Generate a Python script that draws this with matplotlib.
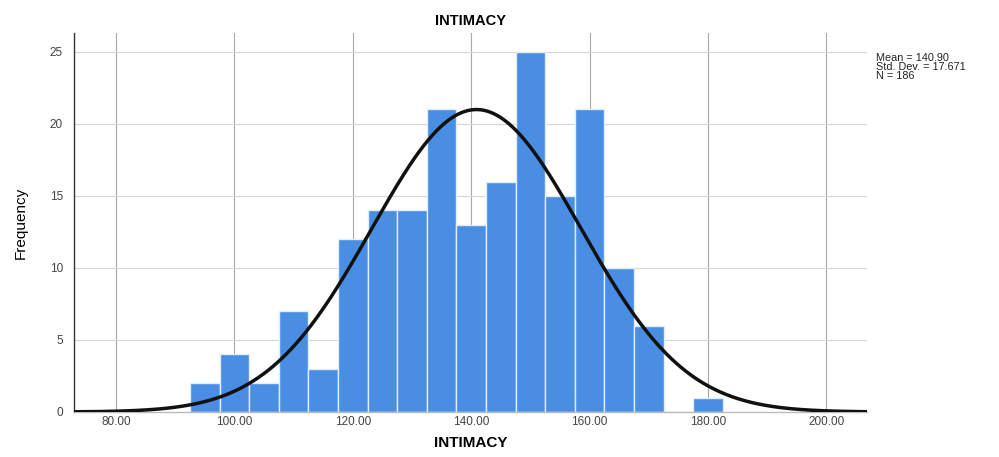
import numpy as np
import matplotlib
matplotlib.use("Agg")
import matplotlib.pyplot as plt

# Data
bin_start = 92.5
bin_width = 5.0
counts = [2, 4, 2, 7, 3, 12, 14, 14, 21, 13, 16, 25, 15, 21, 10, 6, 0, 1]
mean = 140.90
std = 17.671
n = 186
x_ticks = [80, 100, 120, 140, 160, 180, 200]
y_ticks = [0, 5, 10, 15, 20, 25]

plt.rcParams['font.family'] = ['Liberation Sans', 'DejaVu Sans']

fig = plt.figure(figsize=(9.99, 4.57), dpi=100)
ax = fig.add_axes([0.074, 0.0985, 0.794, 0.829])

edges = bin_start + bin_width * np.arange(len(counts))
ax.bar(edges, counts, width=bin_width, align='edge', color='#4a8ee3',
       edgecolor='#dfeefe', linewidth=1.0, zorder=2)

xs = np.linspace(72.9, 206.9, 500)
pdf = n * bin_width / (std * np.sqrt(2 * np.pi)) * np.exp(-0.5 * ((xs - mean) / std) ** 2)
ax.plot(xs, pdf, color='#111111', linewidth=2.5, zorder=3)

ax.set_xlim(72.9, 206.9)
ax.set_ylim(0, 26.3)
ax.set_xticks(x_ticks)
ax.set_xticklabels([f"{v:.2f}" for v in x_ticks])
ax.set_yticks(y_ticks)
ax.tick_params(axis='x', length=0, labelsize=8.5, colors='#444444', pad=3)
ax.tick_params(axis='y', length=0, labelsize=8.5, colors='#444444', pad=8)

for v in x_ticks:
    ax.axvline(v, color='#a8a8a8', linewidth=0.8, zorder=1)
for v in y_ticks[1:]:
    ax.axhline(v, color='#d6d6d6', linewidth=0.8, zorder=1)

for s in ['top', 'right']:
    ax.spines[s].set_visible(False)
ax.spines['left'].set_color('#333333')
ax.spines['left'].set_linewidth(1.0)
ax.spines['bottom'].set_color('#bbbbbb')
ax.spines['bottom'].set_linewidth(1.0)

ax.set_title("INTIMACY", fontsize=10.5, fontweight='bold', pad=6)
ax.set_xlabel("INTIMACY", fontsize=11, fontweight='bold', labelpad=6)
ax.set_ylabel("Frequency", fontsize=11, labelpad=16)

fig.text(0.877, 0.885, f"Mean = {mean:.2f}\nStd. Dev. = {std:.3f}\nN = {n}",
         fontsize=7.8, va='top', ha='left', linespacing=0.9, color='#222222')

fig.savefig("out.png", dpi=100)
